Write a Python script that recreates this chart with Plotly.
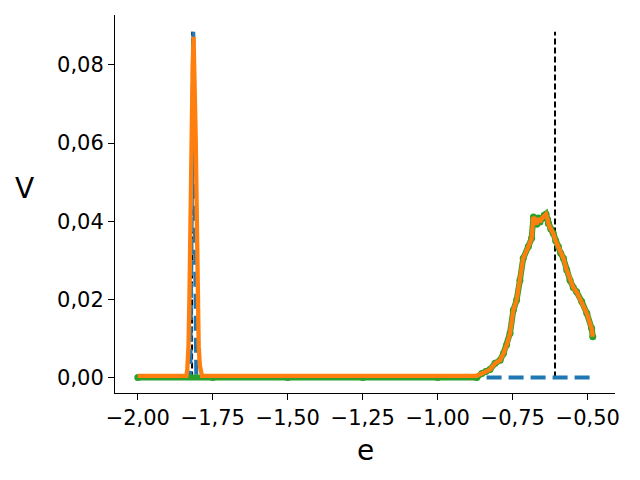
import plotly.graph_objects as go

# baseline where all curves sit at zero
base_x = [-2.0, -1.9, -1.85, -1.838]
base_tail_x = [-1.786, -1.75, -1.5, -1.25, -1.0, -0.9, -0.87]

# narrow peak (orange only)
spike_x = [-1.835, -1.831, -1.828, -1.825, -1.821, -1.817, -1.814, -1.811,
           -1.807, -1.803, -1.800, -1.797, -1.793, -1.789]
spike_y = [0.002, 0.008, 0.020, 0.040, 0.062, 0.080, 0.0872, 0.080,
           0.062, 0.040, 0.020, 0.008, 0.003, 0.001]

# broad bump (orange and green)
bump_x = [-0.853, -0.840, -0.826, -0.809, -0.792, -0.781, -0.770, -0.759, -0.748,
          -0.737, -0.726, -0.715, -0.698, -0.687, -0.681, -0.675, -0.670, -0.665,
          -0.659, -0.653, -0.645, -0.639, -0.634, -0.631, -0.623, -0.615, -0.607,
          -0.598, -0.590, -0.581, -0.570, -0.559, -0.548, -0.537, -0.520, -0.503,
          -0.487, -0.483]
bump_y = [0.0010, 0.0015, 0.0020, 0.0036, 0.0044, 0.0061, 0.0083, 0.0113, 0.0172,
          0.0198, 0.0249, 0.0305, 0.0335, 0.0356, 0.0411, 0.0400, 0.0392, 0.0408,
          0.0398, 0.0407, 0.0415, 0.0418, 0.0405, 0.0394, 0.0380, 0.0369, 0.0350,
          0.0335, 0.0318, 0.0305, 0.0275, 0.0249, 0.0230, 0.0219, 0.0194, 0.0164,
          0.0126, 0.0104]

orange_base = 0.0004

# blue dashed reference
blue_x = [-2.0, -1.825, -1.815, -1.805, -0.483]
blue_y = [0.0, 0.0, 0.0885, 0.0, 0.0]

# vertical markers
vline_x = [-1.819, -0.609]
vline_top = 0.0885

green_base_x = [-2.0, -1.75, -1.5, -1.25, -1.0, -0.87]

fig = go.Figure()

for vx in vline_x:
    fig.add_trace(go.Scatter(x=[vx, vx], y=[0, vline_top], mode="lines",
                             line=dict(color="black", width=2, dash="6px,3px"),
                             showlegend=False, hoverinfo="skip"))

fig.add_trace(go.Scatter(x=blue_x, y=blue_y, mode="lines",
                         line=dict(color="#1f77b4", width=4, dash="15px,7px"),
                         showlegend=False))

green_x = green_base_x + bump_x
green_y = [0.0] * len(green_base_x) + bump_y
fig.add_trace(go.Scatter(x=green_x, y=green_y, mode="lines+markers",
                         line=dict(color="#2ca02c", width=6),
                         marker=dict(color="#2ca02c", size=7),
                         showlegend=False))

orange_x = base_x + spike_x + base_tail_x + bump_x
orange_y = ([orange_base] * len(base_x) + spike_y
            + [orange_base] * len(base_tail_x) + bump_y)
fig.add_trace(go.Scatter(x=orange_x, y=orange_y, mode="lines",
                         line=dict(color="#ff7f0e", width=4.3),
                         showlegend=False))

axis_style = dict(showgrid=False, zeroline=False, showline=True, linecolor="black",
                  linewidth=1, ticks="outside", ticklen=6, tickcolor="black",
                  tickfont=dict(family="DejaVu Sans", size=21, color="black"),
                  mirror=False, automargin=False)

fig.update_xaxes(range=[-2.076, -0.409], tickvals=[-2.0, -1.75, -1.5, -1.25, -1.0, -0.75, -0.5],
                 tickformat=".2f", **axis_style)
fig.update_yaxes(range=[-0.0040, 0.0928], tickvals=[0.0, 0.02, 0.04, 0.06, 0.08],
                 tickformat=".2f", **axis_style)

# the page body adds an 8px offset, so the margins are trimmed to compensate
fig.update_layout(
    width=640, height=480,
    margin=dict(l=107, r=33, t=7, b=95),
    plot_bgcolor="white", paper_bgcolor="white",
    separators=", ",
    showlegend=False,
    annotations=[
        dict(text="V", xref="paper", yref="paper", x=-0.182, y=0.542,
             showarrow=False, xanchor="center", yanchor="middle",
             font=dict(family="DejaVu Sans", size=28, color="black")),
        dict(text="e", xref="paper", yref="paper", x=0.5, y=-0.151,
             showarrow=False, xanchor="center", yanchor="middle",
             font=dict(family="DejaVu Sans", size=28, color="black")),
    ],
)

fig.write_html("out.html")
